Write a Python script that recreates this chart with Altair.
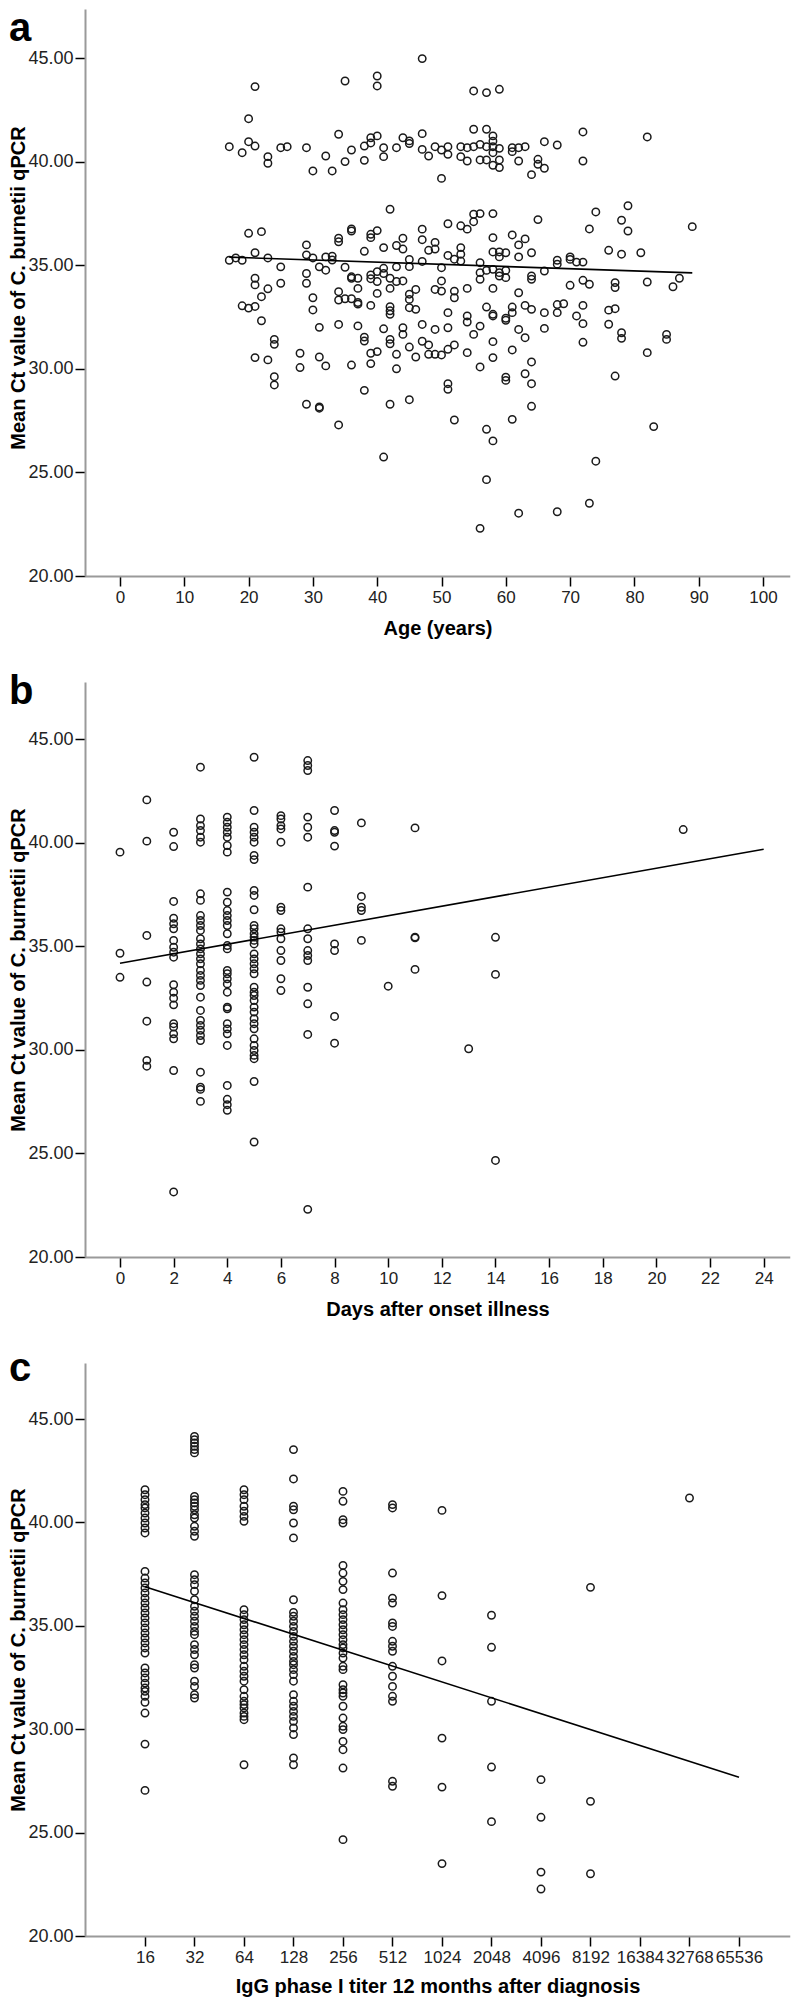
import altair as alt
import pandas as pd

FONT = "Liberation Sans"
Y_TITLE = "Mean Ct value of C. burnetii qPCR"

# ---------------- Panel a: age vs Ct ----------------
points_a = [
    (21, 43.62), (35, 43.89), (40, 44.13), (40, 43.65), (20, 42.07), (17, 40.72), (19, 40.43),
    (20, 40.96), (21, 40.75), (23, 40.24), (23, 39.92), (25, 40.67), (26, 40.72), (29, 40.67),
    (30, 39.55), (32, 40.27), (33, 39.55), (34, 41.32), (35, 40.0), (36, 40.56), (38, 40.75),
    (38, 40.06), (39, 41.15), (39, 40.9), (40, 41.24), (41, 40.67), (41, 40.24), (43, 40.67),
    (47, 44.97), (55, 43.41), (57, 43.33), (59, 43.49), (55, 41.56), (57, 41.56), (58, 41.24),
    (47, 41.35), (44, 41.15), (45, 41.0), (45, 40.87), (47, 40.59), (48, 40.27), (49, 40.72),
    (50, 40.56), (51, 40.72), (51, 40.35), (50, 39.19), (53, 40.72), (53, 40.24), (54, 40.67),
    (54, 40.03), (55, 40.72), (56, 40.83), (56, 40.08), (57, 40.72), (57, 40.08), (58, 40.99),
    (58, 40.72), (58, 40.43), (58, 39.82), (59, 40.64), (59, 40.08), (59, 39.71), (61, 40.67),
    (61, 40.48), (62, 40.67), (62, 40.03), (63, 40.72), (65, 40.11), (65, 39.87), (64, 39.37),
    (66, 40.96), (66, 39.68), (68, 40.8), (72, 41.43), (72, 40.03), (82, 41.19),
    (42, 37.7), (20, 36.54), (22, 36.62), (36, 36.75), (36, 36.65), (40, 36.67), (34, 36.3),
    (34, 36.13), (39, 36.49), (39, 36.33), (29, 35.98), (21, 35.6), (38, 35.67), (41, 35.85),
    (43, 35.95), (17, 35.24), (18, 35.35), (19, 35.24), (23, 35.35), (29, 35.5), (30, 35.35),
    (32, 35.4), (33, 35.44), (33, 35.25), (25, 34.92), (31, 34.92), (32, 34.76), (35, 34.9),
    (29, 34.6), (36, 34.44), (36, 34.37), (37, 34.37), (37, 33.88), (39, 34.53), (39, 34.35),
    (40, 34.69), (40, 34.21), (41, 34.85), (41, 34.6), (42, 34.37), (42, 33.88), (43, 34.92),
    (43, 34.21), (21, 34.37), (21, 34.05), (23, 33.86), (25, 34.13), (29, 34.13), (34, 33.72),
    (40, 33.64), (22, 33.48), (30, 33.43), (34, 33.32), (35, 33.38), (36, 33.38), (37, 33.2),
    (37, 33.12), (39, 33.06), (42, 33.0), (42, 32.8), (42, 32.63), (19, 33.04), (20, 32.93),
    (21, 33.01), (30, 32.84), (22, 32.32), (31, 32.0), (34, 32.14), (37, 32.07), (41, 31.93),
    (24, 31.42), (24, 31.18), (21, 30.54), (23, 30.43), (24, 29.62), (24, 29.22), (28, 30.75),
    (28, 30.06), (29, 28.29), (31, 28.16), (31, 28.1), (31, 30.57), (32, 30.14), (34, 27.29),
    (36, 30.18), (38, 31.53), (38, 31.34), (38, 28.96), (39, 30.75), (39, 30.25), (40, 30.83),
    (41, 25.74), (42, 31.42), (42, 31.21), (42, 28.29), (43, 30.7), (43, 30.0),
    (79, 37.87), (74, 37.57), (78, 37.17), (79, 36.65), (73, 36.75), (89, 36.86), (65, 37.2),
    (58, 37.49), (56, 37.49), (55, 37.46), (55, 37.1), (54, 36.74), (53, 36.9), (51, 37.0),
    (47, 36.74), (47, 36.23), (44, 36.3), (44, 35.78), (49, 36.1), (49, 35.78), (48, 35.72),
    (51, 35.47), (53, 35.85), (53, 35.53), (53, 35.2), (58, 36.33), (58, 35.64), (59, 35.64),
    (59, 35.4), (60, 35.6), (61, 36.46), (62, 35.98), (62, 35.4), (63, 36.27), (64, 35.6),
    (76, 35.72), (78, 35.53), (81, 35.6), (68, 35.24), (68, 35.05), (70, 35.4), (70, 35.28),
    (72, 35.15), (71, 35.15), (47, 35.18), (45, 35.28), (45, 34.93), (50, 34.88), (52, 35.29),
    (56, 35.12), (56, 34.64), (56, 34.32), (57, 34.75), (58, 34.8), (59, 34.64), (59, 34.48),
    (60, 34.75), (60, 34.4), (64, 34.48), (64, 34.32), (66, 34.72), (70, 34.03), (72, 34.27),
    (73, 34.08), (77, 34.16), (77, 33.92), (82, 34.19), (87, 34.37), (86, 33.96), (50, 34.24),
    (44, 34.24), (46, 33.83), (49, 33.83), (50, 33.75), (52, 33.75), (52, 33.43), (54, 33.88),
    (58, 33.88), (62, 33.67), (45, 33.6), (45, 33.35), (45, 32.95), (46, 32.87), (51, 32.71),
    (54, 32.55), (54, 32.26), (57, 32.98), (58, 32.55), (60, 32.34), (61, 32.98), (61, 32.71),
    (63, 33.06), (64, 32.87), (66, 32.71), (68, 33.1), (68, 32.71), (69, 33.14), (71, 32.55),
    (72, 33.06), (76, 32.83), (77, 32.9), (47, 32.14), (44, 31.98), (49, 31.9), (51, 31.98),
    (56, 32.06),
    (44, 31.66), (55, 31.66), (45, 31.05), (47, 31.33), (48, 31.15), (46, 30.57), (48, 30.7),
    (49, 30.7), (50, 30.67), (51, 30.94), (52, 31.15), (54, 30.78), (58, 31.31), (58, 30.54),
    (56, 30.09), (61, 30.91), (62, 31.9), (63, 31.5), (64, 30.33), (63, 29.76), (64, 29.28),
    (64, 28.19), (60, 29.6), (60, 29.44), (51, 29.28), (51, 29.01), (45, 28.51), (52, 27.53),
    (61, 27.56), (57, 27.08), (58, 26.52), (57, 24.65), (56, 22.3), (62, 23.03), (68, 23.1),
    (73, 23.51), (74, 25.54), (83, 27.21), (82, 30.78), (77, 29.65), (72, 31.28), (72, 32.18),
    (76, 32.15), (78, 31.74), (78, 31.47), (85, 31.66), (85, 31.42), (66, 31.95), (58, 32.63),
    (60, 32.44),
]
fit_a_x = [17, 89]
fit_a_y = [35.39, 34.63]
ticks_a = [0, 10, 20, 30, 40, 50, 60, 70, 80, 90, 100]

# ---------------- Panel b: days after onset vs Ct ----------------
b_days = [0, 1, 2, 3, 4, 5, 6, 7, 8, 9, 10, 11, 13, 14, 21]
b_ct = [
    [39.54, 34.66, 33.5],
    [42.06, 40.07, 35.52, 33.27, 31.38, 29.49, 29.21],
    [40.5, 39.81, 37.16, 36.35, 36.08, 35.84, 35.28, 34.95, 34.71, 34.47, 33.14, 32.78, 32.49,
     32.17, 31.26, 31.1, 30.77, 30.53, 29.0, 23.14],
    [43.64, 41.14, 40.82, 40.58, 40.26, 40.02, 37.53, 37.21, 36.48, 36.24, 36.0, 35.76, 35.36,
     35.11, 34.87, 34.63, 34.39, 34.15, 33.83, 33.59, 33.35, 33.1, 32.54, 31.9, 31.42, 31.18,
     30.94, 30.69, 30.45, 28.92, 28.2, 28.09, 27.51],
    [41.23, 40.98, 40.74, 40.5, 40.26, 39.86, 39.54, 37.61, 37.12, 36.72, 36.48, 36.24, 36.0,
     35.6, 35.03, 34.87, 33.83, 33.67, 33.43, 33.18, 32.78, 32.06, 31.98, 31.26, 31.01, 30.77,
     30.21, 28.28, 27.61, 27.35, 27.08],
    [44.12, 41.55, 40.74, 40.5, 40.26, 40.02, 39.38, 39.18, 37.69, 37.45, 36.76, 36.0, 35.84,
     35.6, 35.44, 35.28, 35.11, 34.63, 34.39, 34.15, 33.91, 33.67, 33.02, 32.78, 32.62, 32.38,
     32.06, 31.82, 31.5, 31.26, 31.01, 30.53, 30.21, 29.97, 29.73, 29.57, 28.47, 25.55],
    [41.3, 41.14, 40.82, 40.66, 40.02, 36.88, 36.72, 35.84, 35.68, 35.36, 34.79, 34.31, 33.43,
     32.86],
    [43.96, 43.72, 43.48, 41.23, 40.74, 40.26, 37.85, 35.84, 35.36, 34.79, 34.55, 34.31, 33.02,
     32.22, 30.74, 22.3],
    [41.55, 40.58, 40.5, 39.83, 35.11, 34.79, 31.61, 30.32],
    [40.95, 37.4, 36.88, 36.72, 35.28],
    [33.07],
    [40.71, 35.44, 35.4, 33.88],
    [30.05],
    [35.43, 33.64, 24.66],
    [40.63],
]
fit_b_x = [0, 24]
fit_b_y = [34.18, 39.68]
ticks_b = [0, 2, 4, 6, 8, 10, 12, 14, 16, 18, 20, 22, 24]

# ---------------- Panel c: IgG phase I titer vs Ct ----------------
c_titers = [16, 32, 64, 128, 256, 512, 1024, 2048, 4096, 8192, 32768]
c_ct = [
    [41.58, 41.34, 41.1, 40.86, 40.7, 40.45, 40.21, 39.97, 39.73, 39.49, 37.63, 37.31, 37.07,
     36.83, 36.59, 36.34, 36.1, 35.86, 35.62, 35.38, 35.14, 34.89, 34.65, 34.41, 34.17, 33.93,
     33.68, 32.96, 32.72, 32.48, 32.23, 31.99, 31.83, 31.59, 31.3, 30.78, 29.28, 27.04],
    [44.16, 44.0, 43.84, 43.68, 43.52, 43.36, 41.26, 41.1, 40.94, 40.78, 40.61, 40.37, 40.21,
     39.81, 39.57, 39.33, 37.47, 37.23, 36.99, 36.67, 36.26, 35.94, 35.7, 35.46, 35.22, 34.97,
     34.73, 34.57, 34.09, 33.85, 33.6, 33.12, 32.96, 32.32, 32.07, 31.67, 31.51],
    [41.58, 41.34, 41.1, 40.78, 40.54, 40.29, 40.05, 35.78, 35.54, 35.3, 35.05, 34.81, 34.57,
     34.33, 34.09, 33.85, 33.6, 33.36, 33.04, 32.8, 32.56, 32.32, 31.91, 31.59, 31.35, 31.19,
     31.03, 30.78, 30.62, 30.46, 28.28],
    [43.52, 42.1, 40.78, 40.61, 39.97, 39.25, 36.26, 35.65, 35.46, 35.22, 34.97, 34.73, 34.49,
     34.25, 34.01, 33.77, 33.52, 33.28, 33.12, 32.88, 32.64, 32.32, 31.67, 31.35, 31.11, 30.86,
     30.62, 30.38, 30.06, 29.74, 28.61, 28.28],
    [41.5, 41.02, 40.13, 39.97, 37.92, 37.55, 37.15, 36.75, 36.1, 35.78, 35.54, 35.3, 35.05,
     34.81, 34.57, 34.33, 34.09, 33.93, 33.68, 33.44, 33.04, 32.88, 32.15, 31.91, 31.75, 31.59,
     31.11, 30.54, 30.14, 29.98, 29.41, 29.01, 28.12, 24.66],
    [40.86, 40.7, 37.55, 36.34, 36.1, 35.14, 34.97, 34.25, 34.01, 33.77, 33.04, 32.56, 32.07,
     31.59, 31.35, 27.48, 27.24],
    [40.58, 36.46, 33.3, 29.57, 27.2, 23.5],
    [35.51, 33.96, 31.35, 28.17, 25.53],
    [27.56, 25.74, 23.09, 22.27],
    [36.86, 26.51, 23.01],
    [41.18],
]
fit_c_x = [16, 65536]
fit_c_y = [36.89, 27.68]
ticks_c = [16, 32, 64, 128, 256, 512, 1024, 2048, 4096, 8192, 16384, 32768, 65536]

# ---------------- build tables ----------------
df_a = pd.DataFrame(points_a, columns=["x", "y"])
df_b = pd.DataFrame([(d, v) for d, vals in zip(b_days, b_ct) for v in vals], columns=["x", "y"])
df_c = pd.DataFrame([(t, v) for t, vals in zip(c_titers, c_ct) for v in vals], columns=["x", "y"])
fa = pd.DataFrame({"x": fit_a_x, "y": fit_a_y})
fb = pd.DataFrame({"x": fit_b_x, "y": fit_b_y})
fc = pd.DataFrame({"x": fit_c_x, "y": fit_c_y})

W = 705  # plot width


def make_panel(df, fit, xscale, xaxis, label, label_y, H, ytop, ytitle_y, top_ext, bot_ext):
    yenc = alt.Y(
        "y:Q",
        scale=alt.Scale(domain=[20, ytop], nice=False, zero=False),
        axis=alt.Axis(
            values=[20, 25, 30, 35, 40, 45], format=".2f", title=Y_TITLE,
            titleX=-61, titleY=ytitle_y, titleAngle=270, titleBaseline="alphabetic",
            titleAlign="center", labelFontSize=18, labelPadding=2,
        ),
    )
    xenc = alt.X("x:Q", scale=xscale, axis=xaxis)
    pts = alt.Chart(df).mark_point(
        shape="circle", filled=False, size=55, strokeWidth=1.5, color="#1a1a1a", opacity=1
    ).encode(x=xenc, y=yenc)
    line = alt.Chart(fit).mark_line(color="black", strokeWidth=1.6).encode(x=xenc, y=yenc)
    lab = alt.Chart(pd.DataFrame({"t": [label]})).mark_text(
        font=FONT, fontSize=40, fontWeight="bold", align="left", baseline="alphabetic", color="black"
    ).encode(text="t:N", x=alt.value(-76), y=alt.value(label_y))
    bound = alt.Chart(pd.DataFrame({"v": [0]})).mark_rule(color="white", strokeWidth=1).encode(
        x=alt.value(W + 1), y=alt.value(-top_ext), y2=alt.value(H + bot_ext)
    )
    return alt.layer(bound, pts, line, lab).properties(width=W, height=H)


def xaxis(values, title, fmt=None, title_y=58, size=17):
    kw = dict(values=values, title=title, titleY=title_y, titleBaseline="alphabetic",
              labelFontSize=size, labelPadding=3, labelOverlap=False, labelFlush=False)
    if fmt:
        kw["format"] = fmt
    return alt.Axis(**kw)


Ha, Hb, Hc = 567, 575, 573
pa = make_panel(
    df_a, fa,
    alt.Scale(domain=[-35 / 6.43, (W - 35) / 6.43], nice=False, zero=False),
    xaxis(ticks_a, "Age (years)"),
    "a", 32, Ha, 20 + Ha / 20.72, 278.5, 0, 65,
)
pb = make_panel(
    df_b, fb,
    alt.Scale(domain=[-35 / 26.82, (W - 35) / 26.82], nice=False, zero=False),
    xaxis(ticks_b, "Days after onset illness"),
    "b", 22, Hb, 20 + Hb / 20.72, Hb / 2, 15, 65,
)
lo = 4 - 60 / 49.5
hi = 4 + (W - 60) / 49.5
pc = make_panel(
    df_c, fc,
    alt.Scale(type="log", base=2, domain=[2 ** lo, 2 ** hi], nice=False, zero=False),
    xaxis(ticks_c, "IgG phase I titer 12 months after diagnosis", fmt="d", title_y=56),
    "c", 18, Hc, 20 + Hc / 20.68, Hc / 2, 15, 60,
)

chart = (
    alt.vconcat(pa, pb, pc, spacing=24)
    .properties(padding=0)
    .configure_view(stroke=None)
    .configure_axis(
        labelFont=FONT, titleFont=FONT, domainColor="#9a9a9a", domainWidth=2,
        tickColor="black", tickWidth=1.5, tickSize=10, labelColor="#222222",
        titleColor="black", titleFontSize=20, titleFontWeight="bold", grid=False,
    )
)
chart.save("out.html", embed_options={"renderer": "svg", "actions": False})
